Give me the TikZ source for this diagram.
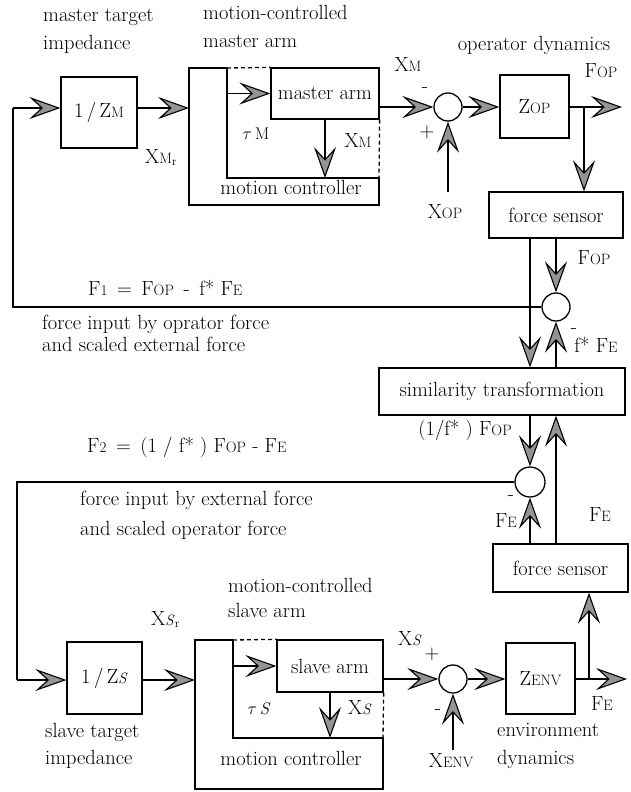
\documentclass[tikz,border=0pt]{standalone}
\usetikzlibrary{arrows.meta}
\newcommand\sbs[1]{{\fontsize{15}{15}\selectfont #1}}
\newcommand\sbr[1]{\raisebox{-2.5pt}{\fontsize{12}{12}\selectfont #1}}
\begin{document}
\begin{tikzpicture}[x=1pt,y=-1pt,
  every node/.style={font=\fontsize{20.5}{24}\selectfont},
  box/.style={draw,line width=1.3pt,inner sep=0pt},
  sumc/.style={draw,circle,line width=1.3pt,minimum size=28pt,inner sep=0pt},
  ln/.style={line width=1.1pt},
  arr/.style={ln,-{Stealth[length=31pt,width=22pt,inset=12pt,fill=black!42]}},
  dsh/.style={line width=1.3pt,dash pattern=on 4pt off 3pt},
  lbl/.style={inner sep=0pt,anchor=mid},
  lblw/.style={inner sep=0pt,anchor=mid west}
]
\useasboundingbox (0,0) rectangle (630,792);

% ---------- top (master) ----------
\node[lblw] (t1) at (43,19) {master target};
\node[lblw] (t2) at (43,47) {impedance};
\node[lblw] (t3) at (203,17) {motion-controlled};
\node[lblw] (t4) at (203,45) {master arm};
\node[lbl] (t5) at (534,48) {operator dynamics};

\node[box,minimum width=76pt,minimum height=71pt] (zm) at (99,112.5) {1\,/\,Z\sbs{M}};
\node[box,minimum width=108pt,minimum height=51pt] (ma) at (325,93.5) {master arm};
\node[box,minimum width=69pt,minimum height=63pt] (zop) at (534.5,106.5) {Z\sbs{OP}};
\node[box,minimum width=134pt,minimum height=46pt] (fs1) at (556,215) {force sensor};
\node[sumc] (c1) at (448,107) {};

% motion controller (master)
\draw[line width=1.3pt] (227,68) -- (189,68) -- (189,205) -- (379,205) -- (379,178) -- (227,178) -- cycle;
\draw[dsh] (227,68) -- (ma.north west);
\draw[dsh] (ma.south east) -- (379,178);
\node[lbl] (mcm) at (291,192) {motion controller};

\coordinate (lt) at (13,108);
\coordinate (lm) at (13,307);
\coordinate (mcin) at (189,108);
\coordinate (mtau) at (227,93.5);
\coordinate (mctop) at (325,178);
\coordinate (fopend) at (622,107);
\coordinate (j1) at (584,107);
\coordinate (xop) at (448,192);

\draw[arr] (lt) -- (lt -| zm.west);
\draw[arr] (zm.east |- lt) -- (mcin);
\draw[arr] (mtau) -- (ma.west);
\draw[arr] (ma.south) -- (mctop);
\draw[arr] (ma.east |- c1) -- (c1.west);
\draw[arr] (c1.east) -- (zop.west |- c1);
\draw[arr] (zop.east |- c1) -- (fopend);
\draw[arr] (j1) -- (j1 |- fs1.north);
\draw[arr] (xop) -- (c1.south);

\node[lblw] (xmr) at (145,161) {X\sbs{M}\sbr{r}};
\node[lbl] (taum) at (256,137) {\fontsize{17}{17}\selectfont$\tau$\,M};
\node[lbl] (xm1) at (358,145) {X\sbs{M}};
\node[lbl] (xm2) at (408,69) {X\sbs{M}};
\node[lbl] (mi1) at (425,90) {-};
\node[lbl] (pl1) at (427,135) {+};
\node[lbl] (xopl) at (445,216) {X\sbs{OP}};
\node[lbl] (fop1) at (601,75) {F\sbs{OP}};

% ---------- middle ----------
\node[sumc] (c2) at (556,307) {};
\node[box,minimum width=246pt,minimum height=47pt] (sim) at (502,391.5) {similarity transformation};
\node[sumc,minimum size=30pt] (c3) at (530,482) {};
\node[box,minimum width=135pt,minimum height=48pt] (fs2) at (560.5,568) {force sensor};

\draw[ln] (c2.west) -- (lm) -- (lt);
\draw[arr] (fs1.south -| c3) -- (sim.north -| c3);
\draw[arr] (fs1.south -| c2) -- (c2.north);
\draw[arr] (sim.north -| c2) -- (c2.south);
\draw[arr] (sim.south -| c3) -- (c3.north);
\draw[arr] (fs2.north -| c2) -- (sim.south -| c2);
\draw[arr] (fs2.north -| c3) -- (c3.south);

\node[lbl] (fop2) at (594,262) {F\sbs{OP}};
\node[lblw] (f1) at (88,293) {F\sbs{1} \,=\, F\sbs{OP} \,-\, f* F\sbs{E}};
\node[lblw] (fi1) at (42,327) {force input by oprator force};
\node[lblw] (fi2) at (42,349) {and scaled external force};
\node[lbl] (mi2) at (574,331) {-};
\node[lbl] (fsfe) at (596,350) {f* F\sbs{E}};
\node[lbl] (inv) at (465,433) {(1/f* ) F\sbs{OP}};
\node[lblw] (f2) at (87,450) {F\sbs{2} \,=\, (1 / f* ) F\sbs{OP} - F\sbs{E}};
\node[lblw] (fi3) at (80,503) {force input by external force};
\node[lblw] (fi4) at (80,533) {and scaled operator force};
\node[lbl] (mi3) at (511,498) {-};
\node[lbl] (fe1) at (506,525) {F\sbs{E}};
\node[lbl] (fe2) at (600,519) {F\sbs{E}};

% ---------- bottom (slave) ----------
\coordinate (lb1) at (17,482);
\coordinate (lb2) at (17,680);
\coordinate (scin) at (195,680);
\coordinate (stau) at (233,666);
\coordinate (sctop) at (330,738);
\coordinate (feend) at (627,679);
\coordinate (j2) at (589,679);
\coordinate (xenv) at (453,750);

\node[box,minimum width=75pt,minimum height=72pt] (zs) at (104.5,678) {1\,/\,Z\sbs{\textit{S}}};
\node[box,minimum width=106pt,minimum height=52pt] (sa) at (330,666) {slave arm};
\node[sumc] (c4) at (453,679) {};
\node[box,minimum width=69pt,minimum height=71pt] (zenv) at (540.5,678.5) {Z\sbs{ENV}};

\draw[line width=1.3pt] (233,640) -- (195,640) -- (195,789) -- (383,789) -- (383,738) -- (233,738) -- cycle;
\draw[dsh] (233,640) -- (sa.north west);
\draw[dsh] (sa.south east) -- (383,738);
\node[lbl] (mcs) at (291,763) {motion controller};

\draw[ln] (c3.west) -- (lb1) -- (lb2);
\draw[arr] (lb2) -- (lb2 -| zs.west);
\draw[arr] (zs.east |- lb2) -- (scin);
\draw[arr] (stau) -- (sa.west);
\draw[arr] (sa.south) -- (sctop);
\draw[arr] (sa.east |- c4) -- (c4.west);
\draw[arr] (c4.east) -- (zenv.west |- c4);
\draw[arr] (zenv.east |- c4) -- (feend);
\draw[arr] (j2) -- (j2 |- fs2.south);
\draw[arr] (xenv) -- (c4.south);

\node[lblw] (xsr) at (151,623) {X\sbs{\textit{S}}\sbr{r}};
\node[lblw] (s1) at (228,590) {motion-controlled};
\node[lblw] (s2) at (228,615) {slave arm};
\node[lbl] (taus) at (259,712) {\fontsize{17}{17}\selectfont$\tau$\,\textit{S}};
\node[lbl] (xs1) at (360,712) {X\sbs{\textit{S}}};
\node[lbl] (xs2) at (410,643) {X\sbs{\textit{S}}};
\node[lbl] (pl2) at (432,657) {+};
\node[lbl] (mi4) at (438,712) {-};
\node[lbl] (xenvl) at (451,765) {X\sbs{ENV}};
\node[lbl] (fe3) at (602,708) {F\sbs{E}};
\node[lblw] (ed1) at (497,734) {environment};
\node[lblw] (ed2) at (497,762) {dynamics};
\node[lblw] (st1) at (45,735) {slave target};
\node[lblw] (st2) at (45,762) {impedance};
\end{tikzpicture}
\end{document}
